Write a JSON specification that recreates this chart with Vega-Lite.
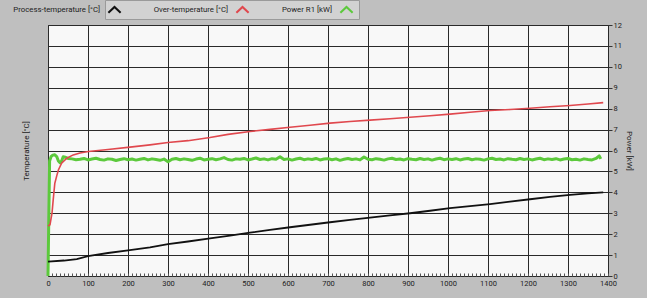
{
  "$schema": "https://vega.github.io/schema/vega-lite/v6.json",
  "width": 560,
  "height": 251,
  "autosize": {"type": "none"},
  "padding": {"left": 48, "top": 25, "right": 39, "bottom": 22},
  "background": "#bfbfbf",
  "config": {
    "font": "Roboto",
    "view": {"fill": "#f8f8f8", "stroke": "#333333", "strokeWidth": 1},
    "axis": {"domain": false, "gridColor": "#2a2a2a", "gridWidth": 1, "gridOpacity": 1, "labelColor": "#222222", "labelFontSize": 7.5, "tickColor": "#333333", "titleFontWeight": "normal", "titleFontSize": 8, "titleColor": "#222222"},
    "legend": {"labelFontSize": 7.8, "labelColor": "#222222"}
  },
  "datasets": {
    "process": [
      {"t": 0, "v": 0.69}, {"t": 40, "v": 0.74}, {"t": 72, "v": 0.81}, {"t": 100, "v": 0.95}, {"t": 150, "v": 1.1}, {"t": 200, "v": 1.22}, {"t": 255, "v": 1.37}, {"t": 300, "v": 1.52}, {"t": 350, "v": 1.65}, {"t": 405, "v": 1.8}, {"t": 455, "v": 1.93}, {"t": 505, "v": 2.07}, {"t": 555, "v": 2.2}, {"t": 605, "v": 2.33}, {"t": 655, "v": 2.45}, {"t": 705, "v": 2.57}, {"t": 755, "v": 2.68}, {"t": 805, "v": 2.79}, {"t": 855, "v": 2.9}, {"t": 905, "v": 3.0}, {"t": 955, "v": 3.12}, {"t": 1005, "v": 3.24}, {"t": 1055, "v": 3.34}, {"t": 1105, "v": 3.44}, {"t": 1155, "v": 3.56}, {"t": 1205, "v": 3.67}, {"t": 1255, "v": 3.78}, {"t": 1305, "v": 3.88}, {"t": 1350, "v": 3.95}, {"t": 1388, "v": 4.0}
    ],
    "over": [
      {"t": 0, "v": 2.39}, {"t": 5, "v": 2.45}, {"t": 10, "v": 3.0}, {"t": 13, "v": 3.64}, {"t": 17, "v": 4.43}, {"t": 22, "v": 4.8}, {"t": 26, "v": 5.07}, {"t": 34, "v": 5.39}, {"t": 47, "v": 5.63}, {"t": 63, "v": 5.79}, {"t": 80, "v": 5.88}, {"t": 101, "v": 5.95}, {"t": 150, "v": 6.05}, {"t": 205, "v": 6.16}, {"t": 255, "v": 6.27}, {"t": 300, "v": 6.38}, {"t": 350, "v": 6.47}, {"t": 405, "v": 6.62}, {"t": 450, "v": 6.77}, {"t": 505, "v": 6.91}, {"t": 555, "v": 7.01}, {"t": 605, "v": 7.11}, {"t": 655, "v": 7.21}, {"t": 705, "v": 7.31}, {"t": 755, "v": 7.39}, {"t": 805, "v": 7.45}, {"t": 855, "v": 7.52}, {"t": 905, "v": 7.59}, {"t": 955, "v": 7.66}, {"t": 1005, "v": 7.74}, {"t": 1055, "v": 7.83}, {"t": 1105, "v": 7.91}, {"t": 1155, "v": 7.96}, {"t": 1205, "v": 8.02}, {"t": 1255, "v": 8.09}, {"t": 1305, "v": 8.15}, {"t": 1350, "v": 8.22}, {"t": 1388, "v": 8.29}
    ],
    "power": [
      {"t": 0, "v": 0}, {"t": 4, "v": 5.5}, {"t": 8, "v": 5.72}, {"t": 12, "v": 5.78}, {"t": 17, "v": 5.8}, {"t": 22, "v": 5.7}, {"t": 26, "v": 5.5}, {"t": 30, "v": 5.42}, {"t": 34, "v": 5.5}, {"t": 38, "v": 5.7}, {"t": 43, "v": 5.68}, {"t": 50, "v": 5.62},
      {"t": 60, "v": 5.6}, {"t": 70, "v": 5.56}, {"t": 80, "v": 5.58}, {"t": 90, "v": 5.62}, {"t": 100, "v": 5.55}, {"t": 110, "v": 5.59}, {"t": 120, "v": 5.63}, {"t": 130, "v": 5.57}, {"t": 140, "v": 5.54}, {"t": 150, "v": 5.6}, {"t": 160, "v": 5.58}, {"t": 170, "v": 5.52}, {"t": 180, "v": 5.57}, {"t": 190, "v": 5.61}, {"t": 200, "v": 5.56}, {"t": 210, "v": 5.59}, {"t": 220, "v": 5.54}, {"t": 230, "v": 5.58}, {"t": 240, "v": 5.62}, {"t": 250, "v": 5.55}, {"t": 260, "v": 5.6}, {"t": 270, "v": 5.57}, {"t": 280, "v": 5.53}, {"t": 290, "v": 5.59}, {"t": 300, "v": 5.46}, {"t": 310, "v": 5.58}, {"t": 320, "v": 5.62}, {"t": 330, "v": 5.56}, {"t": 340, "v": 5.6}, {"t": 350, "v": 5.57}, {"t": 360, "v": 5.53}, {"t": 370, "v": 5.59}, {"t": 380, "v": 5.63}, {"t": 390, "v": 5.55}, {"t": 400, "v": 5.58}, {"t": 410, "v": 5.61}, {"t": 420, "v": 5.56}, {"t": 430, "v": 5.6}, {"t": 440, "v": 5.66}, {"t": 450, "v": 5.57}, {"t": 460, "v": 5.54}, {"t": 470, "v": 5.6}, {"t": 480, "v": 5.58}, {"t": 490, "v": 5.62}, {"t": 500, "v": 5.55}, {"t": 510, "v": 5.59}, {"t": 520, "v": 5.64}, {"t": 530, "v": 5.57}, {"t": 540, "v": 5.6}, {"t": 550, "v": 5.55}, {"t": 560, "v": 5.61}, {"t": 570, "v": 5.58}, {"t": 580, "v": 5.7}, {"t": 590, "v": 5.57}, {"t": 600, "v": 5.6}, {"t": 610, "v": 5.54}, {"t": 620, "v": 5.59}, {"t": 630, "v": 5.63}, {"t": 640, "v": 5.56}, {"t": 650, "v": 5.6}, {"t": 660, "v": 5.57}, {"t": 670, "v": 5.62}, {"t": 680, "v": 5.55}, {"t": 690, "v": 5.59}, {"t": 700, "v": 5.61}, {"t": 710, "v": 5.56}, {"t": 720, "v": 5.6}, {"t": 730, "v": 5.53}, {"t": 740, "v": 5.58}, {"t": 750, "v": 5.62}, {"t": 760, "v": 5.57}, {"t": 770, "v": 5.6}, {"t": 780, "v": 5.55}, {"t": 790, "v": 5.69}, {"t": 800, "v": 5.58}, {"t": 810, "v": 5.56}, {"t": 820, "v": 5.61}, {"t": 830, "v": 5.58}, {"t": 840, "v": 5.54}, {"t": 850, "v": 5.6}, {"t": 860, "v": 5.63}, {"t": 870, "v": 5.57}, {"t": 880, "v": 5.59}, {"t": 890, "v": 5.55}, {"t": 900, "v": 5.61}, {"t": 910, "v": 5.58}, {"t": 920, "v": 5.56}, {"t": 930, "v": 5.62}, {"t": 940, "v": 5.57}, {"t": 950, "v": 5.6}, {"t": 960, "v": 5.54}, {"t": 970, "v": 5.59}, {"t": 980, "v": 5.63}, {"t": 990, "v": 5.56}, {"t": 1000, "v": 5.6}, {"t": 1010, "v": 5.57}, {"t": 1020, "v": 5.61}, {"t": 1030, "v": 5.55}, {"t": 1040, "v": 5.59}, {"t": 1050, "v": 5.62}, {"t": 1060, "v": 5.56}, {"t": 1070, "v": 5.6}, {"t": 1080, "v": 5.58}, {"t": 1090, "v": 5.54}, {"t": 1100, "v": 5.6}, {"t": 1110, "v": 5.63}, {"t": 1120, "v": 5.57}, {"t": 1130, "v": 5.59}, {"t": 1140, "v": 5.55}, {"t": 1150, "v": 5.61}, {"t": 1160, "v": 5.58}, {"t": 1170, "v": 5.56}, {"t": 1180, "v": 5.62}, {"t": 1190, "v": 5.57}, {"t": 1200, "v": 5.6}, {"t": 1210, "v": 5.55}, {"t": 1220, "v": 5.59}, {"t": 1230, "v": 5.63}, {"t": 1240, "v": 5.56}, {"t": 1250, "v": 5.6}, {"t": 1260, "v": 5.57}, {"t": 1270, "v": 5.61}, {"t": 1280, "v": 5.55}, {"t": 1290, "v": 5.59}, {"t": 1300, "v": 5.62}, {"t": 1310, "v": 5.56}, {"t": 1320, "v": 5.58}, {"t": 1330, "v": 5.54}, {"t": 1340, "v": 5.6}, {"t": 1350, "v": 5.57}, {"t": 1360, "v": 5.55}, {"t": 1370, "v": 5.62}, {"t": 1378, "v": 5.74}, {"t": 1382, "v": 5.6}
    ]
  },
  "layer": [
    {
      "data": {"name": "power"},
      "mark": {"type": "line", "strokeWidth": 3, "strokeJoin": "round"},
      "encoding": {
        "x": {"field": "t", "type": "quantitative", "scale": {"domain": [0, 1400], "nice": false},
          "axis": {"tickCount": 140, "format": "d", "labelExpr": "datum.value % 100 === 0 ? datum.label : ''", "labelOverlap": false, "labelFlush": false, "labelPadding": 6, "tickSize": -3, "tickColor": "#555555",
            "gridOpacity": {"condition": {"test": "datum.value % 100 === 0", "value": 1}, "value": 0}, "title": null}},
        "y": {"field": "v", "type": "quantitative", "scale": {"domain": [0, 12], "nice": false},
          "axis": {"orient": "right", "tickCount": 24, "format": "d", "labelExpr": "datum.value % 1 === 0 ? datum.label : ''", "labelOverlap": false, "labelFlush": false, "labelPadding": 1,
            "tickSize": {"condition": {"test": "datum.value % 1 === 0", "value": 4}, "value": 0}, "title": "Power [kW]", "titleAngle": 90, "titlePadding": 3}},
        "color": {"datum": "Power R1 [kW]", "type": "nominal",
          "scale": {"domain": ["Process-temperature [°C]", "Over-temperature [°C]", "Power R1 [kW]"], "range": ["#111111", "#e0484e", "#5cc93c"]},
          "legend": {"title": null, "orient": "none", "legendX": 57, "legendY": -25, "direction": "horizontal",
            "symbolType": "M-1,0.5L0,-0.45L1,0.5", "symbolSize": 150, "symbolStrokeWidth": 2, "symbolFillColor": "transparent",
            "labelAlign": "right", "labelOffset": -22, "columnPadding": 28, "fillColor": "#d2d2d2", "strokeColor": "#9a9a9a", "padding": 2}}
      }
    },
    {
      "data": {"name": "over"},
      "mark": {"type": "line", "strokeWidth": 1.6},
      "encoding": {
        "x": {"field": "t", "type": "quantitative"},
        "y": {"field": "v", "type": "quantitative", "axis": {"orient": "left", "labels": false, "ticks": false, "grid": false, "title": "Temperature [°C]", "titlePadding": 18}},
        "color": {"datum": "Over-temperature [°C]", "type": "nominal"}
      }
    },
    {
      "data": {"name": "process"},
      "mark": {"type": "line", "strokeWidth": 1.8},
      "encoding": {
        "x": {"field": "t", "type": "quantitative"},
        "y": {"field": "v", "type": "quantitative", "axis": null},
        "color": {"datum": "Process-temperature [°C]", "type": "nominal"}
      }
    }
  ],
  "resolve": {"axis": {"y": "independent"}}
}
